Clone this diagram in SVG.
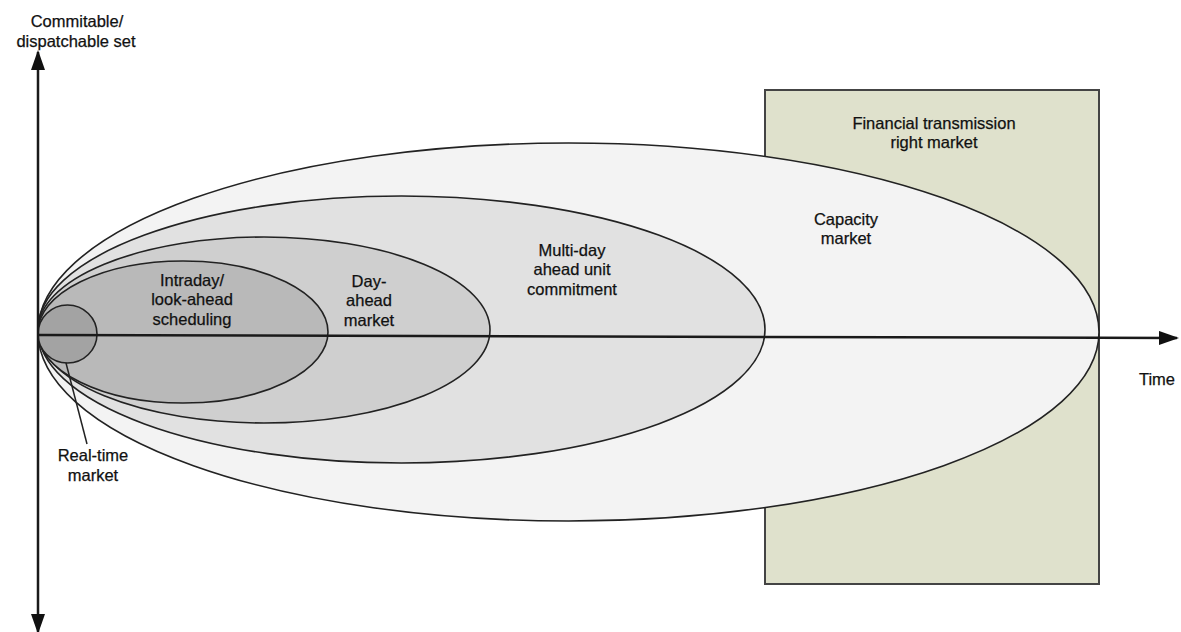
<svg xmlns="http://www.w3.org/2000/svg" width="1181" height="632" viewBox="0 0 1181 632">
<defs>
<style>
.lbl{font-family:"Liberation Sans",Arial,sans-serif;font-size:16.5px;fill:#111;text-anchor:middle;stroke:#111;stroke-width:0.25}
.ell{stroke:#222;stroke-width:1.6}
.axis{stroke:#1a1a1a;stroke-width:2.5;fill:none}
</style>
<marker id="ah" viewBox="0 0 20 14" refX="18" refY="7" markerWidth="20" markerHeight="14" markerUnits="userSpaceOnUse" orient="auto">
<path d="M0,0 L20,7 L0,14 Z" fill="#111"/>
</marker>
</defs>
<rect width="1181" height="632" fill="#ffffff"/>
<g id="ftr-market">
<rect x="765" y="90" width="334" height="494" fill="#dfe1cc" stroke="#444" stroke-width="2"/>
<text class="lbl" x="934" y="129">Financial transmission</text>
<text class="lbl" x="934" y="148">right market</text>
</g>
<g id="capacity-market">
<ellipse class="ell" cx="568.5" cy="332" rx="530.5" ry="189" fill="#f3f3f3"/>
<text class="lbl" x="846" y="225">Capacity</text>
<text class="lbl" x="846" y="244">market</text>
</g>
<g id="multi-day">
<ellipse class="ell" cx="401.5" cy="329.5" rx="363.5" ry="133.5" fill="#e1e1e1"/>
<text class="lbl" x="572" y="256">Multi-day</text>
<text class="lbl" x="572" y="275">ahead unit</text>
<text class="lbl" x="572" y="295">commitment</text>
</g>
<g id="day-ahead">
<ellipse class="ell" cx="264" cy="330" rx="226" ry="93" fill="#cfcfcf"/>
<text class="lbl" x="369" y="287">Day-</text>
<text class="lbl" x="369" y="306">ahead</text>
<text class="lbl" x="369" y="326">market</text>
</g>
<g id="intraday">
<ellipse class="ell" cx="183" cy="332" rx="145" ry="71" fill="#b9b9b9"/>
<text class="lbl" x="192" y="286">Intraday/</text>
<text class="lbl" x="192" y="305">look-ahead</text>
<text class="lbl" x="192" y="325">scheduling</text>
</g>
<g id="real-time">
<ellipse class="ell" cx="67.5" cy="334" rx="29.5" ry="29" fill="#a3a3a3"/>
<text class="lbl" x="93" y="461">Real-time</text>
<text class="lbl" x="93" y="481">market</text>
</g>
<g id="connectors">
<line class="axis" x1="38" y1="335" x2="1177" y2="338" marker-end="url(#ah)"/>
<line class="axis" x1="38" y1="335" x2="38" y2="52" marker-end="url(#ah)"/>
<line class="axis" x1="38" y1="335" x2="38" y2="632" marker-end="url(#ah)"/>
<line x1="66" y1="363" x2="87" y2="444" stroke="#222" stroke-width="1.5"/>
</g>
<g id="axis-labels">
<text class="lbl" x="77" y="27">Commitable/</text>
<text class="lbl" x="76" y="47">dispatchable set</text>
<text class="lbl" x="1157" y="385">Time</text>
</g>
</svg>
